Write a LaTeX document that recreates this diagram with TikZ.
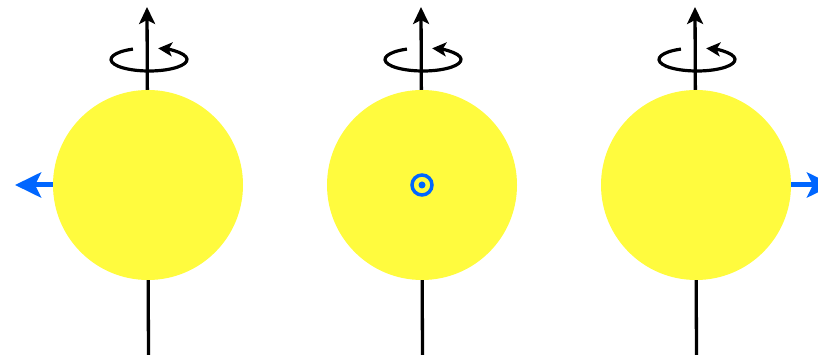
\documentclass[tikz,border=0pt]{standalone}
\usetikzlibrary{arrows.meta}
\definecolor{sunyellow}{RGB}{255,251,62}
\definecolor{spinblue}{RGB}{0,102,255}
\begin{document}
\begin{tikzpicture}[x=1pt,y=1pt,
  ball/.style={circle,fill=sunyellow,minimum size=190pt,inner sep=0pt,draw=none},
  axisline/.style={line width=3.3pt,-{Stealth[length=17pt,width=16pt,inset=4pt]}},
  rot/.style={line width=3.2pt,-{Stealth[length=14pt,width=14pt,inset=3.5pt]}},
  mom/.style={line width=5pt,spinblue,-{Stealth[length=26pt,width=25pt,inset=6pt]}},
  dotring/.style={draw=spinblue,line width=3.5pt,circle,minimum size=20pt,inner sep=0pt},
  dotcore/.style={fill=spinblue,circle,minimum size=7pt,inner sep=0pt}]
\useasboundingbox (0,0) rectangle (818,355);
\foreach \i/\cx in {1/148,2/422,3/696}{
  \coordinate (bot\i) at (\cx+0.5,0);
  \coordinate (top\i) at (\cx-1,348);
  \draw[axisline] (bot\i) -- (top\i);
  \node[ball] (b\i) at (\cx,170) {};
  \draw[rot] (\cx+1,295.5) ++(115:38 and 11.5) arc[start angle=115,end angle=436,x radius=38,y radius=11.5];
}
\coordinate (leftend) at (15,170);
\coordinate (rightend) at (833,170);
\draw[mom] (b1.west) -- (leftend);
\draw[mom] (b3.east) -- (rightend);
\node[dotring] (ring) at (b2.center) {};
\node[dotcore] (core) at (b2.center) {};
\end{tikzpicture}
\end{document}
